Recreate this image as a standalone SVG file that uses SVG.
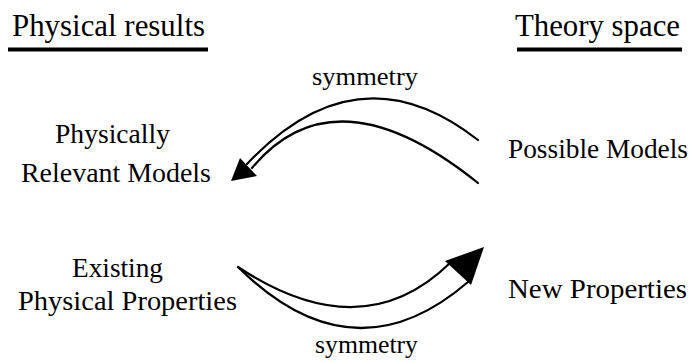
<svg xmlns="http://www.w3.org/2000/svg" width="694" height="362" viewBox="0 0 694 362">
<style>
text{font-family:"Liberation Serif","Times New Roman",serif;fill:#000}
.h{font-size:31px}
.b{font-size:28px}
.s{font-size:26px}
.c{fill:none;stroke:#000;stroke-width:2.2;stroke-linecap:round}
</style>
<rect width="694" height="362" fill="#fff"/>
<g id="header-left">
<text class="h" x="12" y="36" textLength="193" lengthAdjust="spacingAndGlyphs">Physical results</text>
<rect x="8" y="47.5" width="200" height="4" fill="#000"/>
</g>
<g id="header-right">
<text class="h" x="515" y="36" textLength="165" lengthAdjust="spacingAndGlyphs">Theory space</text>
<rect x="517" y="47.5" width="165" height="4" fill="#000"/>
</g>
<g id="physically-relevant-models">
<text class="b" x="55" y="142.5" textLength="115" lengthAdjust="spacingAndGlyphs">Physically</text>
<text class="b" x="21" y="182" textLength="190" lengthAdjust="spacingAndGlyphs">Relevant Models</text>
</g>
<g id="possible-models">
<text class="b" x="508" y="158" textLength="180" lengthAdjust="spacingAndGlyphs">Possible Models</text>
</g>
<g id="existing-properties">
<text class="b" x="72" y="277" textLength="91" lengthAdjust="spacingAndGlyphs">Existing</text>
<text class="b" x="18" y="310" textLength="219" lengthAdjust="spacingAndGlyphs">Physical Properties</text>
</g>
<g id="new-properties">
<text class="b" x="508" y="298" textLength="179" lengthAdjust="spacingAndGlyphs">New Properties</text>
</g>
<g id="connectors">
<path class="c" d="M478,140 Q358,46 247,164"/>
<path class="c" d="M478,183 Q335,68 252,168"/>
<polygon points="231,181 240,158 257,176" fill="#000"/>
<text class="s" x="312" y="85" textLength="106" lengthAdjust="spacingAndGlyphs">symmetry</text>
<path class="c" d="M238,267 Q362,349 450,263"/>
<path class="c" d="M238,267 Q353,381 468,282"/>
<polygon points="484,247 445,261 471,285" fill="#000"/>
<text class="s" x="315" y="353" textLength="103" lengthAdjust="spacingAndGlyphs">symmetry</text>
</g>
</svg>
